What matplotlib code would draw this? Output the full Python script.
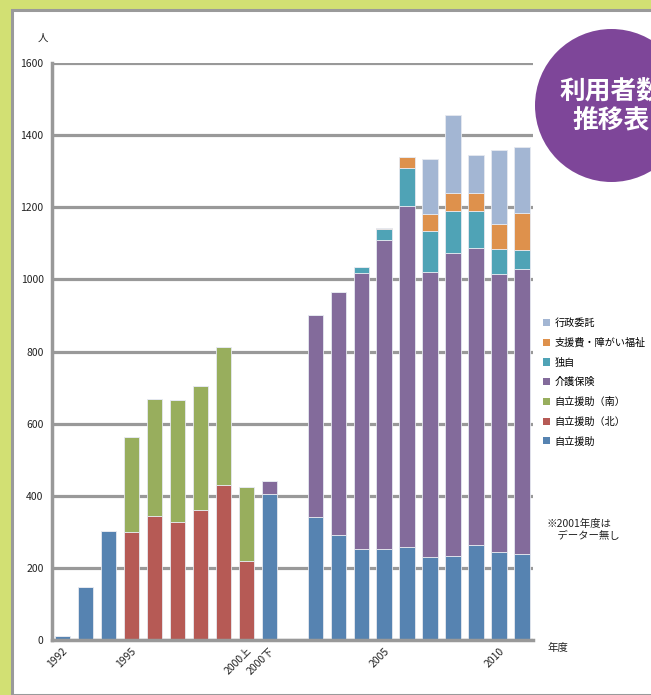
import matplotlib
matplotlib.use("Agg")
import matplotlib.pyplot as plt
import numpy as np
from matplotlib.patches import Rectangle, Ellipse, Patch

plt.rcParams['font.family'] = ['Noto Sans CJK JP', 'DejaVu Sans']

categories = ['1992', '1993', '1994', '1995', '1996', '1997', '1998', '1999',
              '2000上', '2000下', '2001', '2002', '2003', '2004', '2005', '2006',
              '2007', '2008', '2009', '2010', '2011']
shown_ticks = ['1992', '1995', '2000上', '2000下', '2005', '2010']

jiritsu      = [10, 146, 301, 0, 0, 0, 0, 0, 0, 405, 0, 340, 290, 251, 251, 258, 229, 234, 263, 243, 238]
jiritsu_kita = [0, 0, 0, 300, 345, 327, 360, 430, 219, 0, 0, 0, 0, 0, 0, 0, 0, 0, 0, 0, 0]
jiritsu_minami = [0, 0, 0, 264, 323, 338, 345, 382, 205, 0, 0, 0, 0, 0, 0, 0, 0, 0, 0, 0, 0]
kaigo        = [0, 0, 0, 0, 0, 0, 0, 0, 0, 36, 0, 561, 675, 768, 858, 945, 792, 838, 823, 773, 790]
dokuji       = [0, 0, 0, 0, 0, 0, 0, 0, 0, 0, 0, 0, 0, 16, 30, 107, 114, 117, 103, 69, 54]
shienhi      = [0, 0, 0, 0, 0, 0, 0, 0, 0, 0, 0, 0, 0, 0, 4, 30, 45, 50, 50, 69, 101]
gyosei       = [0, 0, 0, 0, 0, 0, 0, 0, 0, 0, 0, 0, 0, 0, 0, 0, 155, 218, 106, 206, 184]

series = [
    ('自立援助', jiritsu, '#5683b1'),
    ('自立援助（北）', jiritsu_kita, '#b65a55'),
    ('自立援助（南）', jiritsu_minami, '#98ae5d'),
    ('介護保険', kaigo, '#836b9b'),
    ('独自', dokuji, '#4fa3b6'),
    ('支援費・障がい福祉', shienhi, '#de914c'),
    ('行政委託', gyosei, '#a3b6d3'),
]

W, H = 651, 695
fig = plt.figure(figsize=(W / 100, H / 100), dpi=100)
fig.patch.set_facecolor('#d2e073')

# white panel with grey border
fig.patches.append(Rectangle((12 / W, 0), (W - 12) / W + 0.01, (H - 10) / H,
                             transform=fig.transFigure, facecolor='white',
                             edgecolor='#9a9a9a', linewidth=2.2, zorder=-5))

ax = fig.add_axes([52 / W, 55 / H, 481 / W, 577 / H])
ax.set_facecolor('none')
ax.set_zorder(1)
x = np.arange(len(categories))
bottom = np.zeros(len(categories))
for name, vals, col in series:
    v = np.array(vals, dtype=float)
    ax.bar(x, v, width=0.66, bottom=bottom, color=col, edgecolor='#e6e9f0',
           linewidth=0.6, zorder=3)
    bottom += v

ax.set_ylim(0, 1600)
ax.set_xlim(-0.45, 20.48)
ax.set_yticks(range(0, 1601, 200))
ax.yaxis.grid(True, color='#999999', linewidth=2.3, zorder=1)
ax.set_axisbelow(True)
for s in ['top', 'right']:
    ax.spines[s].set_visible(False)
for s in ['left', 'bottom']:
    ax.spines[s].set_color('#999999')
    ax.spines[s].set_linewidth(2.5)
ax.spines['bottom'].set_zorder(4)
ax.tick_params(axis='both', length=0, labelsize=7.5, colors='#222222')
ax.tick_params(axis='y', pad=6)
tick_pos = [categories.index(c) for c in shown_ticks]
ax.set_xticks(tick_pos)
ax.set_xticklabels(shown_ticks, rotation=45, ha='right', rotation_mode='anchor')
ax.tick_params(axis='x', pad=4)

fig.text(43 / W, 1 - 38 / H, '人', fontsize=7.5, ha='center', va='center', color='#222222')
fig.text(548 / W, 1 - 648 / H, '年度', fontsize=7.5, ha='left', va='center', color='#222222')
fig.text(547 / W, 1 - 530 / H, '※2001年度は\n　データー無し', fontsize=7.5, ha='left',
         va='center', color='#222222', linespacing=1.3)

handles = [Patch(facecolor=c, edgecolor='none', label=n) for n, _, c in reversed(series)]
fig.legend(handles=handles, loc='upper left', bbox_to_anchor=(543 / W, 1 - 318 / H),
           frameon=False, fontsize=7.3, handlelength=0.7, handleheight=0.7,
           handletextpad=0.45, labelspacing=0.95, borderaxespad=0, borderpad=0)

# title circle
fig.patches.append(Ellipse((611.5 / W, 1 - 105.5 / H), 153 / W, 153 / H,
                           transform=fig.transFigure, facecolor='#7e4699',
                           edgecolor='none', zorder=5))
fig.text(611 / W, 1 - 92 / H, '利用者数', fontsize=18.5, fontweight='bold', color='white',
         ha='center', va='center', zorder=6)
fig.text(611 / W, 1 - 121 / H, '推移表', fontsize=18.5, fontweight='bold', color='white',
         ha='center', va='center', zorder=6)

fig.savefig('out.png', dpi=100, facecolor=fig.get_facecolor())
